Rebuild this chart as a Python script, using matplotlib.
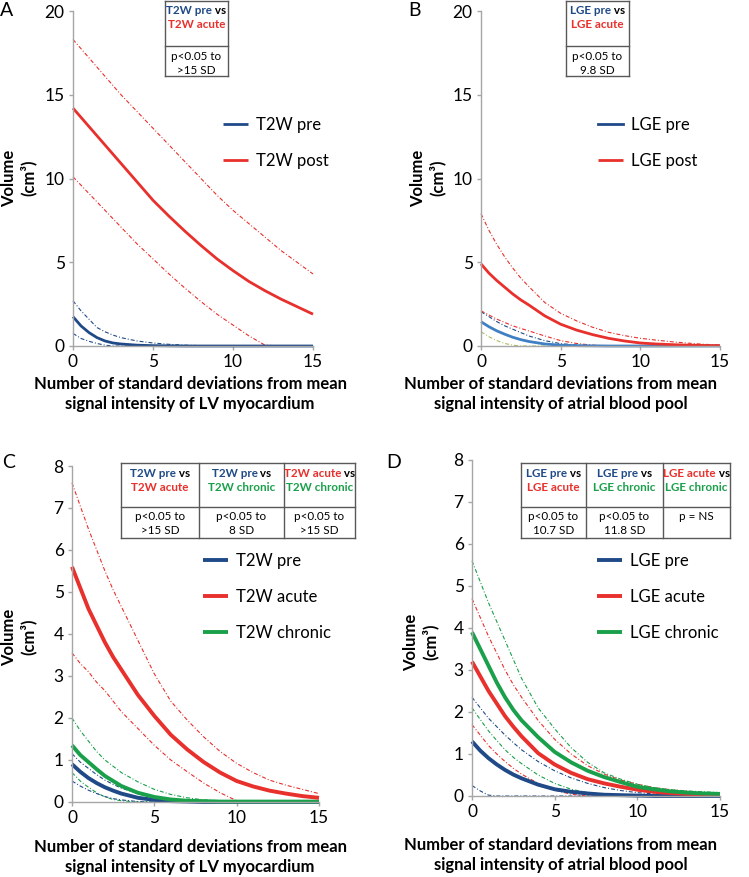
import matplotlib
matplotlib.use("Agg")
import matplotlib.pyplot as plt
from matplotlib.lines import Line2D

plt.rcParams['font.family'] = ['Lato', 'DejaVu Sans']

W, H = 749, 877

# ---------------- data ----------------
X = [0, 0.5, 1, 1.5, 2, 2.5, 3, 4, 5, 6, 7, 8, 9, 10, 11, 12, 13, 14, 15]

# Panel A (T2W, LV myocardium)
A_pre = [1.75, 1.2, 0.8, 0.5, 0.3, 0.18, 0.12, 0.05, 0.02, 0.01, 0, 0, 0, 0, 0, 0, 0, 0, 0]
A_pre_hi = [2.7, 2.1, 1.6, 1.1, 0.85, 0.65, 0.5, 0.3, 0.18, 0.1, 0.05, 0.02, 0.01, 0, 0, 0, 0, 0, 0]
A_pre_lo = [0.75, 0.45, 0.28, 0.15, 0.05, 0, 0, 0, 0, 0, 0, 0, 0, 0, 0, 0, 0, 0, 0]
A_post = [14.2, 13.65, 13.1, 12.55, 12.0, 11.45, 10.9, 9.8, 8.7, 7.75, 6.85, 6.0, 5.2, 4.5, 3.85, 3.3, 2.8, 2.35, 1.9]
A_post_hi = [18.3, 17.75, 17.2, 16.65, 16.1, 15.55, 15.0, 14.0, 13.0, 12.0, 11.0, 10.0, 9.0, 8.1, 7.3, 6.5, 5.7, 5.0, 4.3]
A_post_lo = [10.1, 9.6, 9.1, 8.6, 8.1, 7.6, 7.1, 6.1, 5.2, 4.3, 3.45, 2.65, 1.9, 1.25, 0.6, 0.05, 0, 0, 0]

# Panel B (LGE, atrial blood pool)
B_pre = [1.45, 1.15, 0.9, 0.7, 0.52, 0.38, 0.27, 0.12, 0.05, 0.02, 0.01, 0, 0, 0, 0, 0, 0, 0, 0]
B_pre_hi = [2.05, 1.75, 1.45, 1.2, 1.0, 0.8, 0.6, 0.32, 0.14, 0.06, 0.02, 0.01, 0, 0, 0, 0, 0, 0, 0]
B_pre_lo = [0.85, 0.55, 0.32, 0.15, 0.05, 0, 0, 0, 0, 0, 0, 0, 0, 0, 0, 0, 0, 0, 0]
B_post = [4.9, 4.35, 3.9, 3.5, 3.1, 2.75, 2.45, 1.8, 1.3, 0.95, 0.68, 0.46, 0.3, 0.18, 0.12, 0.08, 0.05, 0.03, 0.02]
B_post_hi = [7.9, 6.9, 6.05, 5.3, 4.65, 4.05, 3.55, 2.6, 1.95, 1.5, 1.12, 0.82, 0.62, 0.46, 0.35, 0.25, 0.17, 0.1, 0.06]
B_post_lo = [2.1, 1.85, 1.6, 1.4, 1.2, 1.05, 0.9, 0.6, 0.32, 0.15, 0.05, 0.01, 0, 0, 0, 0, 0, 0, 0]

# Panel C (T2W, LV myocardium)
C_pre = [0.9, 0.72, 0.57, 0.45, 0.35, 0.27, 0.2, 0.1, 0.05, 0.02, 0.01, 0, 0, 0, 0, 0, 0, 0, 0]
C_pre_hi = [1.15, 0.95, 0.8, 0.65, 0.52, 0.42, 0.33, 0.2, 0.1, 0.05, 0.02, 0.01, 0, 0, 0, 0, 0, 0, 0]
C_pre_lo = [0.5, 0.38, 0.28, 0.2, 0.13, 0.08, 0.05, 0.01, 0, 0, 0, 0, 0, 0, 0, 0, 0, 0, 0]
C_acute = [5.6, 5.1, 4.6, 4.2, 3.8, 3.45, 3.15, 2.55, 2.05, 1.6, 1.25, 0.95, 0.7, 0.5, 0.37, 0.27, 0.2, 0.14, 0.1]
C_acute_hi = [7.6, 7.05, 6.5, 6.0, 5.5, 5.05, 4.65, 3.85, 3.05, 2.4, 1.95, 1.55, 1.2, 0.92, 0.7, 0.52, 0.4, 0.3, 0.2]
C_acute_lo = [3.55, 3.3, 3.1, 2.85, 2.65, 2.4, 2.15, 1.75, 1.35, 1.0, 0.72, 0.45, 0.22, 0.03, 0, 0, 0, 0, 0]
C_chronic = [1.35, 1.12, 0.95, 0.78, 0.62, 0.5, 0.38, 0.22, 0.12, 0.06, 0.03, 0.02, 0.01, 0.01, 0.01, 0.01, 0.01, 0.01, 0.01]
C_chronic_hi = [2.0, 1.7, 1.45, 1.2, 1.0, 0.85, 0.7, 0.48, 0.3, 0.18, 0.1, 0.05, 0.03, 0.01, 0, 0, 0, 0, 0]
C_chronic_lo = [0.7, 0.5, 0.35, 0.22, 0.12, 0.06, 0.03, 0, 0, 0, 0, 0, 0, 0, 0, 0, 0, 0, 0]

# Panel D (LGE, atrial blood pool)
D_pre = [1.3, 1.08, 0.9, 0.75, 0.62, 0.51, 0.42, 0.27, 0.16, 0.1, 0.06, 0.03, 0.02, 0.01, 0, 0, 0, 0, 0]
D_pre_hi = [2.35, 2.1, 1.85, 1.65, 1.45, 1.27, 1.1, 0.82, 0.6, 0.43, 0.3, 0.2, 0.13, 0.08, 0.05, 0.03, 0.02, 0.01, 0]
D_pre_lo = [0.25, 0.12, 0.02, 0, 0, 0, 0, 0, 0, 0, 0, 0, 0, 0, 0, 0, 0, 0, 0]
D_acute = [3.2, 2.85, 2.5, 2.2, 1.9, 1.65, 1.42, 1.02, 0.75, 0.55, 0.4, 0.3, 0.22, 0.15, 0.1, 0.07, 0.05, 0.04, 0.03]
D_acute_hi = [4.7, 4.25, 3.8, 3.4, 3.0, 2.65, 2.35, 1.8, 1.35, 1.0, 0.72, 0.52, 0.38, 0.28, 0.2, 0.15, 0.11, 0.08, 0.06]
D_acute_lo = [1.7, 1.45, 1.2, 1.0, 0.82, 0.66, 0.52, 0.3, 0.14, 0.04, 0, 0, 0, 0, 0, 0, 0, 0, 0]
D_chronic = [3.9, 3.5, 3.1, 2.7, 2.35, 2.05, 1.8, 1.4, 1.05, 0.8, 0.6, 0.45, 0.33, 0.22, 0.16, 0.11, 0.08, 0.06, 0.05]
D_chronic_hi = [5.6, 5.1, 4.6, 4.15, 3.7, 3.25, 2.8, 2.1, 1.6, 1.15, 0.8, 0.55, 0.4, 0.28, 0.2, 0.15, 0.12, 0.1, 0.08]
D_chronic_lo = [2.1, 1.82, 1.55, 1.32, 1.1, 0.92, 0.77, 0.5, 0.3, 0.16, 0.08, 0.03, 0.01, 0, 0, 0, 0, 0, 0]

XLABEL_LV = "Number of standard deviations from mean\nsignal intensity of LV myocardium"
XLABEL_AB = "Number of standard deviations from mean\nsignal intensity of atrial blood pool"
YLABEL = "Volume\n(cm³)"

NAVY = "#1f4a87"
LBLUE = "#3f7fc4"
RED = "#e8302c"
GREEN = "#1aa04a"
OLIVE = "#a8c060"
SPINE = "#a6a6a6"
DASH = (0, (3.6, 1.8, 0.9, 1.8))

fig = plt.figure(figsize=(W / 100, H / 100), dpi=100)


def fx(px):
    return px / W


def fy(py):
    return 1 - py / H


def make_ax(l, r, t, b, ymax, ystep):
    ax = fig.add_axes([fx(l), fy(b), (r - l) / W, (b - t) / H])
    ax.set_xlim(0, 15)
    ax.set_ylim(0, ymax)
    ax.set_xticks([0, 5, 10, 15])
    ax.set_yticks(list(range(0, ymax + 1, ystep)))
    for s in ['top', 'right']:
        ax.spines[s].set_visible(False)
    for s in ['left', 'bottom']:
        ax.spines[s].set_color(SPINE)
        ax.spines[s].set_linewidth(1.0)
    ax.tick_params(axis='both', colors=SPINE, labelcolor='black', labelsize=12.5,
                   length=3, width=1.0, pad=3)
    ax.patch.set_alpha(0)
    return ax


def dashed(ax, y, color):
    ax.plot(X, y, color=color, lw=0.8, linestyle=DASH, clip_on=False)


def solid(ax, y, color, lw, label):
    return ax.plot(X, y, color=color, lw=lw, label=label, solid_capstyle='butt', clip_on=False)[0]


def legend(ax, handles, x_px, y_px):
    ax.legend(handles=handles, loc='upper left', bbox_to_anchor=(fx(x_px), fy(y_px)),
              bbox_transform=fig.transFigure, frameon=False, fontsize=12,
              handlelength=1.5, handletextpad=0.5, labelspacing=1.2, borderpad=0,
              borderaxespad=0)


renderer = fig.canvas.get_renderer()


def colored_line(xc, y, parts, size=8.4, weight='bold'):
    texts = []
    for s, c in parts:
        t = fig.text(0, fy(y), s, color=c, fontsize=size, fontweight=weight,
                     ha='left', va='center')
        texts.append(t)
    widths = [t.get_window_extent(renderer).width for t in texts]
    total = sum(widths)
    x = xc - total / 2
    for t, w in zip(texts, widths):
        t.set_x(fx(x))
        x += w


def table(xs, ys, cells):
    lc = "#595959"
    for xv in xs:
        fig.add_artist(Line2D([fx(xv), fx(xv)], [fy(ys[0]), fy(ys[-1])],
                              transform=fig.transFigure, color=lc, lw=1.0))
    for yv in ys:
        fig.add_artist(Line2D([fx(xs[0]), fx(xs[-1])], [fy(yv), fy(yv)],
                              transform=fig.transFigure, color=lc, lw=1.0))
    for ci, (head, body) in enumerate(cells):
        xc = (xs[ci] + xs[ci + 1]) / 2
        colored_line(xc, ys[0] + 10.5, head[0])
        colored_line(xc, ys[0] + 24.5, head[1])
        for li, s in enumerate(body):
            colored_line(xc, ys[1] + 10 + 14 * li, [(s, 'black')], weight='normal')


# ---------------- Panel A ----------------
axA = make_ax(73, 313, 11, 346, 20, 5)
dashed(axA, A_pre_hi, NAVY)
dashed(axA, A_pre_lo, NAVY)
dashed(axA, A_post_hi, RED)
dashed(axA, A_post_lo, RED)
hA1 = solid(axA, A_pre, NAVY, 2.0, "T2W pre")
hA2 = solid(axA, A_post, RED, 2.0, "T2W post")
legend(axA, [hA1, hA2], 223, 117)

# ---------------- Panel B ----------------
axB = make_ax(481, 720, 11, 346, 20, 5)
dashed(axB, B_pre_hi, NAVY)
dashed(axB, B_pre_lo, OLIVE)
dashed(axB, B_post_hi, RED)
dashed(axB, B_post_lo, RED)
hB1 = solid(axB, B_pre, LBLUE, 2.0, "LGE pre")
hB2 = solid(axB, B_post, RED, 2.0, "LGE post")
hB1l = Line2D([], [], color=NAVY, lw=2.0, label="LGE pre")
legend(axB, [hB1l, hB2], 598, 117)

# ---------------- Panel C ----------------
axC = make_ax(72, 319, 466, 802, 8, 1)
dashed(axC, C_acute_hi, RED)
dashed(axC, C_acute_lo, RED)
dashed(axC, C_chronic_hi, GREEN)
dashed(axC, C_chronic_lo, GREEN)
dashed(axC, C_pre_hi, NAVY)
dashed(axC, C_pre_lo, NAVY)
hC1 = solid(axC, C_pre, NAVY, 2.8, "T2W pre")
hC3 = solid(axC, C_chronic, GREEN, 2.8, "T2W chronic")
hC2 = solid(axC, C_acute, RED, 2.8, "T2W acute")
legend(axC, [hC1, hC2, hC3], 203, 553)

# ---------------- Panel D ----------------
axD = make_ax(472, 720, 460, 796, 8, 1)
dashed(axD, D_pre_hi, NAVY)
dashed(axD, D_pre_lo, NAVY)
dashed(axD, D_acute_hi, RED)
dashed(axD, D_acute_lo, RED)
dashed(axD, D_chronic_hi, GREEN)
dashed(axD, D_chronic_lo, GREEN)
hD1 = solid(axD, D_pre, NAVY, 2.8, "LGE pre")
hD2 = solid(axD, D_acute, RED, 2.8, "LGE acute")
hD3 = solid(axD, D_chronic, GREEN, 2.8, "LGE chronic")
legend(axD, [hD1, hD2, hD3], 597, 553)

# ---------------- axis labels ----------------
xl = dict(fontsize=12, fontweight='bold', ha='center', va='center', multialignment='center',
          linespacing=1.3)
fig.text(fx(190), fy(394), XLABEL_LV, **xl)
fig.text(fx(561), fy(394), XLABEL_AB, **xl)
fig.text(fx(190), fy(857), XLABEL_LV, **xl)
fig.text(fx(561), fy(855), XLABEL_AB, **xl)

yl = dict(fontsize=12, fontweight='bold', ha='center', va='center', rotation=90,
          multialignment='center', linespacing=1.2)
fig.text(fx(19), fy(178), YLABEL, **yl)
fig.text(fx(428), fy(178), YLABEL, **yl)
fig.text(fx(19), fy(637), YLABEL, **yl)
fig.text(fx(421), fy(642), YLABEL, **yl)

pl = dict(fontsize=14, ha='left', va='center')
fig.text(fx(0), fy(10), "A", **pl)
fig.text(fx(408), fy(10), "B", **pl)
fig.text(fx(2), fy(463), "C", **pl)
fig.text(fx(386), fy(463), "D", **pl)

# ---------------- tables ----------------
table([165, 228], [0.5, 46, 76], [
    (([("T2W pre", NAVY), (" vs", "black")], [("T2W acute", RED)]),
     ["p<0.05 to", ">15 SD"]),
])
table([566, 629], [0.5, 46, 76], [
    (([("LGE pre", NAVY), (" vs", "black")], [("LGE acute", RED)]),
     ["p<0.05 to", "9.8 SD"]),
])
table([121, 199, 284, 355], [463, 507, 538], [
    (([("T2W pre", NAVY), (" vs", "black")], [("T2W acute", RED)]),
     ["p<0.05 to", ">15 SD"]),
    (([("T2W pre", NAVY), (" vs", "black")], [("T2W chronic", GREEN)]),
     ["p<0.05 to", "8 SD"]),
    (([("T2W acute", RED), (" vs", "black")], [("T2W chronic", GREEN)]),
     ["p<0.05 to", ">15 SD"]),
])
table([521, 586, 663, 730], [463, 507, 538], [
    (([("LGE pre", NAVY), (" vs", "black")], [("LGE acute", RED)]),
     ["p<0.05 to", "10.7 SD"]),
    (([("LGE pre", NAVY), (" vs", "black")], [("LGE chronic", GREEN)]),
     ["p<0.05 to", "11.8 SD"]),
    (([("LGE acute", RED), (" vs", "black")], [("LGE chronic", GREEN)]),
     ["p = NS"]),
])

fig.savefig("out.png", dpi=100)
